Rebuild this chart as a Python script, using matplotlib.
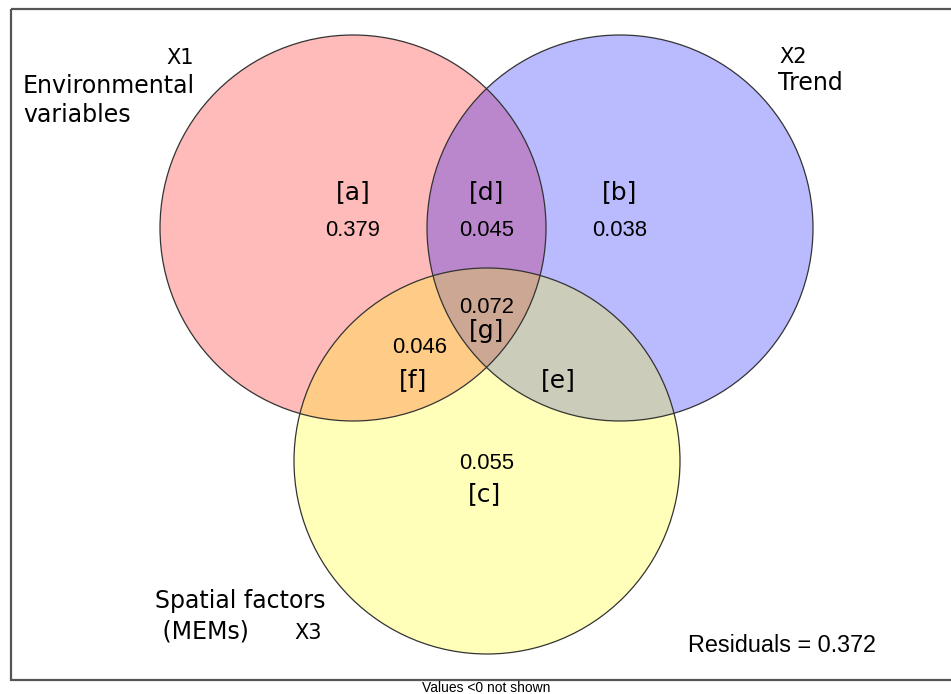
import matplotlib
matplotlib.use("Agg")
import matplotlib.pyplot as plt
from matplotlib.patches import Circle, Rectangle

# Variation partitioning (three explanatory sets)
set_names = ["X1", "X2", "X3"]
set_labels = [["Environmental", "variables"], ["Trend"], ["Spatial factors", " (MEMs)"]]
fractions = ["[a]", "[b]", "[c]", "[d]", "[e]", "[f]", "[g]"]
fraction_values = ["0.379", "0.038", "0.055", "0.045", "", "0.046", "0.072"]
residuals = 0.372

# circle geometry in pixel units
centers = [(353, 228), (620, 228), (487, 461)]
radius = 193
fills = ["red", "blue", "yellow"]

fig = plt.figure(figsize=(9.51, 6.94), dpi=100)
ax = fig.add_axes([0, 0, 1, 1])
ax.set_xlim(0, 951)
ax.set_ylim(694, 0)
ax.axis("off")

# frame
ax.add_patch(Rectangle((11, 9), 960, 671, fill=False, ec="#555555", lw=1.6))

for (cx, cy), fc in zip(centers, fills):
    ax.add_patch(Circle((cx, cy), radius, fc=fc, alpha=0.27, ec="none"))
for (cx, cy) in centers:
    ax.add_patch(Circle((cx, cy), radius, fill=False, ec="#333333", lw=0.9))

lab_font = dict(family="DejaVu Sans", color="black")
num_font = dict(family="Liberation Sans", color="black")

# fraction labels and values: (label xy, value xy)
frac_pos = {
    "[a]": ((353, 192), (353, 230)),
    "[b]": ((620, 192), (620, 230)),
    "[c]": ((485, 494), (487, 463)),
    "[d]": ((487, 192), (487, 230)),
    "[e]": ((558, 380), None),
    "[f]": ((413, 380), (420, 347)),
    "[g]": ((487, 331), (487, 307)),
}
for lab, val in zip(fractions, fraction_values):
    (lx, ly), vpos = frac_pos[lab]
    ax.text(lx, ly, lab, fontsize=18, ha="center", va="center", **lab_font)
    if vpos is not None and val:
        ax.text(vpos[0], vpos[1], val, fontsize=15.8, ha="center", va="center", **num_font)

# set names
ax.text(180, 58, set_names[0], fontsize=15, ha="center", va="center", **lab_font)
for i, line in enumerate(set_labels[0]):
    ax.text(23, 86 + 29 * i, line, fontsize=17, ha="left", va="center", **lab_font)
ax.text(793, 57, set_names[1], fontsize=15, ha="center", va="center", **lab_font)
ax.text(778, 83, set_labels[1][0], fontsize=17, ha="left", va="center", **lab_font)
for i, line in enumerate(set_labels[2]):
    ax.text(155, 601 + 30 * i, line, fontsize=17, ha="left", va="center", **lab_font)
ax.text(308, 633, set_names[2], fontsize=15, ha="center", va="center", **lab_font)

ax.text(688, 645, "Residuals = %.3f" % residuals, fontsize=16.8, ha="left",
        va="center", **num_font)
ax.text(486, 688, "Values <0 not shown", fontsize=10, ha="center", va="center",
        **num_font)

fig.savefig("out.png", dpi=100, facecolor="white")
